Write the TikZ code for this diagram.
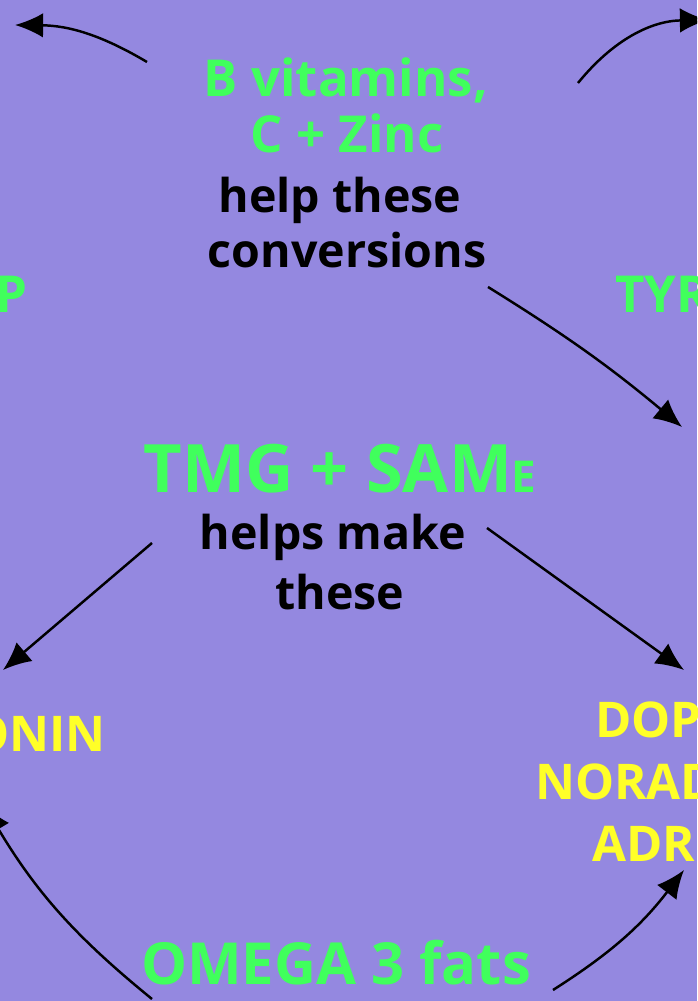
\documentclass[tikz,border=0pt]{standalone}
\usepackage{fontspec}
\setmainfont{Open Sans}
\usepackage{tikz}
\usetikzlibrary{arrows.meta}

\definecolor{bgpurple}{RGB}{148,136,224}
\definecolor{vitgreen}{RGB}{64,255,92}
\definecolor{hormyellow}{RGB}{255,255,40}

\begin{document}
\begin{tikzpicture}[x=0.02cm, y=0.02cm,
    every node/.style={inner sep=0, anchor=base},
    vitamin/.style={text=vitgreen, font=\fontsize{29}{33}\selectfont\bfseries},
    note/.style={text=black, font=\fontsize{26.5}{32}\selectfont\bfseries},
    hormone/.style={text=hormyellow, font=\fontsize{28}{32}\selectfont\bfseries},
    cycle/.style={-{Latex[length=16pt, width=14pt]}, line width=1.4pt}]
        \useasboundingbox (0,0) rectangle (697,1001);
        \clip (0,0) rectangle (697,1001);
        \fill[bgpurple] (0,0) rectangle (697,1001);

        % Top helpers
        \node[vitamin] (vitb) at (346,904) {B vitamins,};
        \node[vitamin] (zinc) at (347,848) {C + Zinc};
        \node[note] (helpthese) at (340,788) {help these};
        \node[note] (conversions) at (347,733) {conversions};

        % Precursors
        \node[vitamin, anchor=base east] (htp) at (28,688) {P};
        \node[vitamin, anchor=base west] (tyr) at (615,688) {TYR};

        % Middle helpers
        \node[vitamin, font=\fontsize{38}{42}\selectfont\bfseries] (tmg) at (340,508) {TMG + SAM{\fontsize{25}{25}\selectfont E}};
        \node[note] (helpsmake) at (333,451) {helps make};
        \node[note] (these) at (340,391) {these};

        % Neurotransmitters
        \node[hormone, anchor=base east] (sero) at (106,249) {ONIN};
        \node[hormone, anchor=base west] (dopa) at (595,263) {DOP};
        \node[hormone, anchor=base west] (norad) at (535,201) {NORAD};
        \node[hormone, anchor=base west] (adren) at (592,139) {ADR};

        % Bottom helper
        \node[vitamin, font=\fontsize{33}{37}\selectfont\bfseries] (omega) at (336,16) {OMEGA 3 fats};

        % Arrow ends
        \coordinate (tl1) at (147,939);
        \coordinate (tl2) at (15,976);
        \coordinate (tr1) at (578,918);
        \coordinate (tr2) at (708,981);
        \coordinate (mr1) at (488,714);
        \coordinate (mr2) at (682,574);
        \coordinate (cl1) at (152,458);
        \coordinate (cl2) at (3,331);
        \coordinate (cr1) at (487,473);
        \coordinate (cr2) at (684,331);
        \coordinate (bl1) at (152,2);
        \coordinate (bl2) at (-16,196);
        \coordinate (br1) at (553,11);
        \coordinate (br2) at (684,131);

        % Conversions
        \draw[cycle] (tl1) to[bend right=15] (tl2);
        \draw[cycle] (tr1) to[bend left=25] (tr2);
        \draw[cycle] (mr1) to[bend left=4] (mr2);

        % Made by TMG
        \draw[cycle] (cl1) -- (cl2);
        \draw[cycle] (cr1) -- (cr2);

        % Omega 3
        \draw[cycle] (bl1) to[bend left=10] (bl2);
        \draw[cycle] (br1) to[bend right=10] (br2);
    \end{tikzpicture}
\end{document}
